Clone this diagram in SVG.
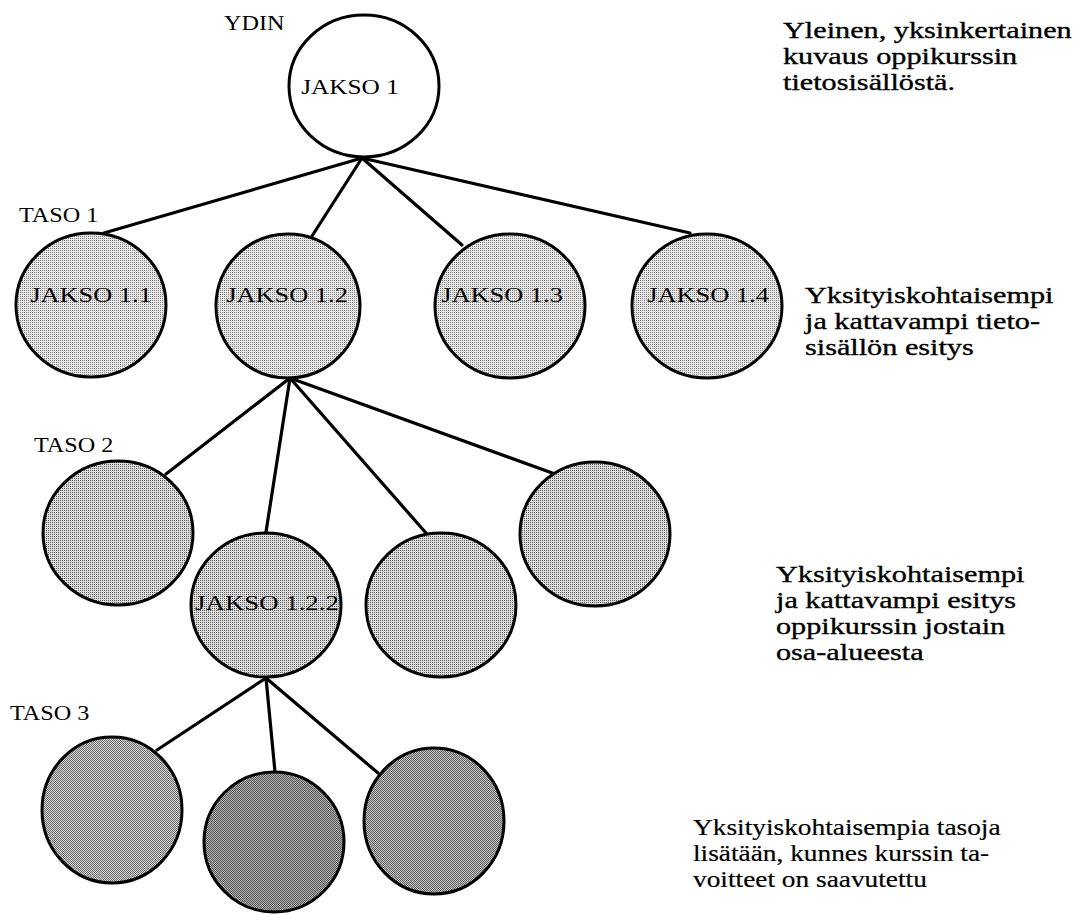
<svg xmlns="http://www.w3.org/2000/svg" width="1074" height="915" viewBox="0 0 1074 915">
<defs>
<pattern id="p1" width="2" height="2" patternUnits="userSpaceOnUse"><rect width="2" height="2" fill="#e8e8e8"/><rect width="1" height="1" fill="#808080"/></pattern>
<pattern id="p2" width="2" height="2" patternUnits="userSpaceOnUse"><rect width="2" height="2" fill="#dedede"/><rect width="1" height="1" fill="#5a5a5a"/></pattern>
<pattern id="p3a" width="2" height="2" patternUnits="userSpaceOnUse"><rect width="2" height="2" fill="#d8d8d8"/><rect width="1" height="1" fill="#6a6a6a"/><rect x="1" y="1" width="1" height="1" fill="#6a6a6a"/></pattern>
<pattern id="p3b" width="2" height="2" patternUnits="userSpaceOnUse"><rect width="2" height="2" fill="#b8b8b8"/><rect width="1" height="1" fill="#505050"/><rect x="1" y="1" width="1" height="1" fill="#505050"/></pattern>
<pattern id="p3c" width="2" height="2" patternUnits="userSpaceOnUse"><rect width="2" height="2" fill="#c8c8c8"/><rect width="1" height="1" fill="#5c5c5c"/><rect x="1" y="1" width="1" height="1" fill="#5c5c5c"/></pattern>
</defs>
<style>
.n{stroke:#000;stroke-width:3}
.c line{stroke:#000;stroke-width:3.2;stroke-linecap:round}
text{font-family:"Liberation Serif","Times New Roman",serif;fill:#000}
.lbl{font-size:22px;text-anchor:middle}
.lv{font-size:22px}
.d{font-size:24px;stroke:#000;stroke-width:0.35}
.d4{font-size:24px;stroke:#000;stroke-width:0.2}
.l0{fill:#fff}.l1{fill:url(#p1)}.l2{fill:url(#p2)}.l3a{fill:url(#p3a)}.l3b{fill:url(#p3b)}.l3c{fill:url(#p3c)}
</style>
<g class="c" id="connectors">
<line x1="362" y1="158" x2="104" y2="233"/>
<line x1="362" y1="158" x2="312" y2="236"/>
<line x1="362" y1="158" x2="462" y2="245"/>
<line x1="362" y1="158" x2="690" y2="233"/>
<line x1="290" y1="378" x2="166" y2="474"/>
<line x1="290" y1="378" x2="266" y2="532"/>
<line x1="290" y1="378" x2="426" y2="533"/>
<line x1="290" y1="378" x2="555" y2="474"/>
<line x1="266" y1="678" x2="157" y2="750"/>
<line x1="266" y1="678" x2="275" y2="772"/>
<line x1="266" y1="678" x2="378" y2="773"/>
</g>
<g id="root"><ellipse class="n l0" cx="364" cy="86" rx="75" ry="71"/><text class="lbl" transform="translate(350 94) scale(1.15 1)">JAKSO 1</text></g>
<g id="n11"><ellipse class="n l1" cx="91" cy="305" rx="75" ry="72"/><text class="lbl" transform="translate(91 302) scale(1.2 1)">JAKSO 1.1</text></g>
<g id="n12"><ellipse class="n l1" cx="288" cy="306" rx="72" ry="72"/><text class="lbl" transform="translate(287 302) scale(1.2 1)">JAKSO 1.2</text></g>
<g id="n13"><ellipse class="n l1" cx="510" cy="306" rx="75" ry="72"/><text class="lbl" transform="translate(502 302) scale(1.2 1)">JAKSO 1.3</text></g>
<g id="n14"><ellipse class="n l1" cx="707" cy="306" rx="75" ry="72"/><text class="lbl" transform="translate(708 302) scale(1.2 1)">JAKSO 1.4</text></g>
<g id="n21"><ellipse class="n l2" cx="118" cy="533" rx="75" ry="72"/></g>
<g id="n22"><ellipse class="n l2" cx="266" cy="605" rx="75" ry="72"/><text class="lbl" transform="translate(267 610) scale(1.22 1)">JAKSO 1.2.2</text></g>
<g id="n23"><ellipse class="n l2" cx="441" cy="605" rx="75" ry="72"/></g>
<g id="n24"><ellipse class="n l2" cx="595" cy="534" rx="75" ry="72"/></g>
<g id="n31"><ellipse class="n l3a" cx="112" cy="810" rx="70" ry="73"/></g>
<g id="n32"><ellipse class="n l3b" cx="274" cy="842" rx="70" ry="70"/></g>
<g id="n33"><ellipse class="n l3c" cx="434" cy="821" rx="70" ry="73"/></g>
<g id="levels">
<text class="lv" transform="translate(224 30) scale(1.1 1)">YDIN</text>
<text class="lv" transform="translate(19 222) scale(1.1 1)">TASO 1</text>
<text class="lv" transform="translate(34 452) scale(1.1 1)">TASO 2</text>
<text class="lv" transform="translate(10 720) scale(1.1 1)">TASO 3</text>
</g>
<g id="descs">
<g transform="translate(783 0) scale(1.26 1)">
<text class="d" x="0" y="38">Yleinen, yksinkertainen</text>
<text class="d" x="0" y="64">kuvaus oppikurssin</text>
<text class="d" x="0" y="90">tietosisällöstä.</text>
</g>
<g transform="translate(805 0) scale(1.26 1)">
<text class="d" x="0" y="303">Yksityiskohtaisempi</text>
<text class="d" x="0" y="329">ja kattavampi tieto-</text>
<text class="d" x="0" y="355">sisällön esitys</text>
</g>
<g transform="translate(776 0) scale(1.26 1)">
<text class="d" x="0" y="582">Yksityiskohtaisempi</text>
<text class="d" x="0" y="608">ja kattavampi esitys</text>
<text class="d" x="0" y="634">oppikurssin jostain</text>
<text class="d" x="0" y="660">osa-alueesta</text>
</g>
<g transform="translate(693 0) scale(1.14 1)">
<text class="d4" x="0" y="835">Yksityiskohtaisempia tasoja</text>
<text class="d4" x="0" y="861">lisätään, kunnes kurssin ta-</text>
<text class="d4" x="0" y="887">voitteet on saavutettu</text>
</g>
</g>
</svg>
